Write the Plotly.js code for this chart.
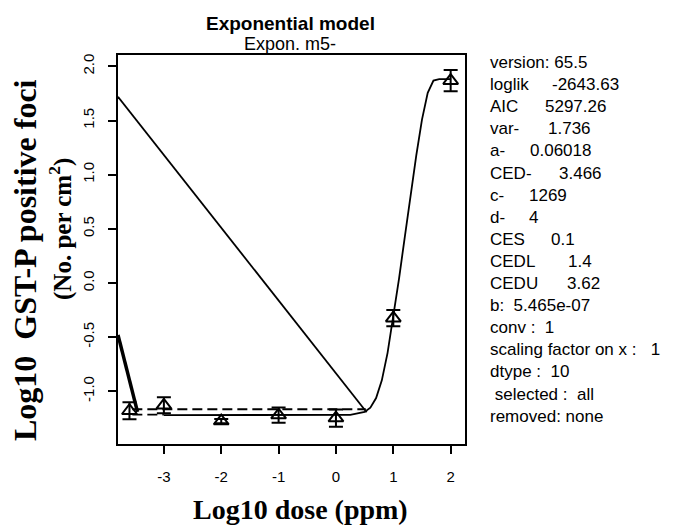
<!DOCTYPE html>
<html>
<head>
<meta charset="utf-8">
<script src="https://cdn.plot.ly/plotly-3.0.1.min.js"></script>
<style>html,body{margin:0;padding:0;background:#fff;}#chart{width:692px;height:526px;}</style>
</head>
<body>
<div id="chart"></div>
<script>
// Observed data (log10 dose, log10 response, error half-width)
const doseLog = [-3.6, -3, -2, -1, 0, 1, 2];
const respLog = [-1.18, -1.13, -1.275, -1.22, -1.248, -0.325, 1.868];
const respErr = [0.078, 0.074, 0.02, 0.071, 0.08, 0.075, 0.098];

// Fitted curve
const curveX = [-3, -2, -1, 0, 0.25, 0.5, 0.6, 0.7, 0.8, 0.9, 1.0, 1.1, 1.2, 1.3, 1.4, 1.5, 1.6, 1.7, 1.8, 2.0];
const curveY = [-1.22, -1.22, -1.22, -1.22, -1.218, -1.191, -1.151, -1.063, -0.899, -0.645, -0.323, 0.041, 0.423, 0.806, 1.176, 1.508, 1.756, 1.869, 1.883, 1.883];

// Thick segment at the left
const thickX = [-3.80, -3.46];
const thickY = [-0.48, -1.19];
// Thin diagonal line
const diagX = [-3.80, 0.535];
const diagY = [1.72, -1.194];
// Dashed lines
const dashUpX = [-3.55, 0.52];
const dashUpY = [-1.166, -1.166];
const dashLoX = [-3.55, -3.0];
const dashLoY = [-1.215, -1.215];

const xTicks = [-3, -2, -1, 0, 1, 2];
const yTicks = [-1.0, -0.5, 0.0, 0.5, 1.0, 1.5, 2.0];
const yTickText = ['-1.0', '-0.5', '0.0', '0.5', '1.0', '1.5', '2.0'];

const infoLabels = ['version: 65.5', 'loglik', 'AIC', 'var-', 'a-', 'CED-', 'c-', 'd-', 'CES', 'CEDL', 'CEDU',
  'b:\u00a0\u00a05.465e-07', 'conv\u00a0:\u00a0\u00a01', 'scaling factor on x\u00a0:\u00a0\u00a0\u00a01', 'dtype\u00a0:\u00a0\u00a010', '\u00a0selected\u00a0:\u00a0\u00a0all', 'removed: none'];
const infoValues = ['', '-2643.63', '5297.26', '1.736', '0.06018', '3.466', '1269', '4', '0.1', '1.4', '3.62', '', '', '', '', '', ''];
const infoValueX = [0, 550, 543, 546, 528, 557, 527, 527, 549, 566, 565, 0, 0, 0, 0, 0, 0];

// pixel -> paper helpers (plot box: x 118..465, y 55..444)
const L = 118, R = 465, T = 55, B = 444;
const px = v => (v - L) / (R - L);
const py = v => (B - v) / (B - T);

const blk = '#000';
const traces = [
  {x: thickX, y: thickY, mode: 'lines', line: {color: blk, width: 3.5}, hoverinfo: 'skip'},
  {x: diagX, y: diagY, mode: 'lines', line: {color: blk, width: 1.8}, hoverinfo: 'skip'},
  {x: dashUpX, y: dashUpY, mode: 'lines', line: {color: blk, width: 1.8, dash: '10px,5px'}, hoverinfo: 'skip'},
  {x: dashLoX, y: dashLoY, mode: 'lines', line: {color: blk, width: 1.8, dash: '10px,5px'}, hoverinfo: 'skip'},
  {x: curveX, y: curveY, mode: 'lines', line: {color: blk, width: 1.8}, hoverinfo: 'skip'},
  {x: doseLog, y: respLog, mode: 'markers',
   marker: {symbol: 'triangle-up-open', size: 13, color: blk, line: {color: blk, width: 2}},
   error_y: {type: 'data', array: respErr, visible: true, color: blk, thickness: 2, width: 7}}
];

const annotations = [
  {text: '<b>Exponential model</b>', x: px(290), y: py(23), font: {family: 'Liberation Sans, Arial', size: 19, color: blk}},
  {text: 'Expon. m5-', x: px(290), y: py(44), font: {family: 'Liberation Sans, Arial', size: 18, color: blk}},
  {text: '<b>Log10 dose (ppm)</b>', x: px(300), y: py(509), font: {family: 'Liberation Serif, Times New Roman', size: 28, color: blk}},
  {text: '<b>Log10\u00a0\u00a0GST-P positive foci</b>', x: px(25), y: py(260), textangle: -90, font: {family: 'Liberation Serif, Times New Roman', size: 32, color: blk}},
  {text: '<b>(No. per cm<sup>2</sup>)</b>', x: px(60), y: py(229), textangle: -90, font: {family: 'Liberation Serif, Times New Roman', size: 25, color: blk}}
];
for (let i = 0; i < infoLabels.length; i++) {
  const yy = 62.5 + 22.1 * i;
  annotations.push({text: infoLabels[i], x: px(488), y: py(yy), xanchor: 'left', font: {family: 'Liberation Sans, Arial', size: 17, color: blk}});
  if (infoValues[i]) {
    annotations.push({text: infoValues[i], x: px(infoValueX[i]), y: py(yy), xanchor: 'left', font: {family: 'Liberation Sans, Arial', size: 17, color: blk}});
  }
}
annotations.forEach(a => { a.xref = 'paper'; a.yref = 'paper'; a.showarrow = false; if (!a.xanchor) a.xanchor = 'center'; a.yanchor = 'middle'; });

const layout = {
  width: 692, height: 526,
  margin: {l: L, r: 692 - R, t: T, b: 526 - B, pad: 0},
  paper_bgcolor: '#fff', plot_bgcolor: '#fff',
  showlegend: false,
  xaxis: {range: [-3.80, 2.25], tickmode: 'array', tickvals: xTicks, ticktext: xTicks.map(String),
    showgrid: false, zeroline: false, showline: true, linecolor: blk, linewidth: 2, mirror: true,
    ticks: 'outside', ticklen: 8, tickwidth: 2, tickcolor: blk, ticklabelstandoff: 10,
    tickfont: {family: 'Liberation Sans, Arial', size: 15, color: blk}},
  yaxis: {range: [-1.487, 2.105], tickmode: 'array', tickvals: yTicks, ticktext: yTickText, tickangle: -90,
    showgrid: false, zeroline: false, showline: true, linecolor: blk, linewidth: 2, mirror: true,
    ticks: 'outside', ticklen: 8, tickwidth: 2, tickcolor: blk, ticklabelstandoff: 8,
    tickfont: {family: 'Liberation Sans, Arial', size: 15, color: blk}},
  annotations: annotations
};

Plotly.newPlot('chart', traces, layout, {staticPlot: true, displayModeBar: false});
</script>
</body>
</html>
